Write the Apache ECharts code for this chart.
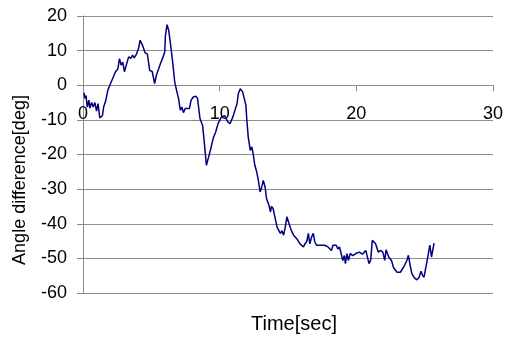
<!DOCTYPE html>
<html><head><meta charset="utf-8">
<script src="https://cdn.jsdelivr.net/npm/echarts@6/dist/echarts.min.js"></script>
<style>html,body{margin:0;padding:0;background:#fff}#c{width:506px;height:337px}</style>
</head><body><div id="c"></div>
<script>
var timeSec = [0.07,0.14,0.22,0.31,0.43,0.50,0.63,0.74,0.87,0.99,1.10,1.23,1.42,1.51,1.66,1.82,2.07,2.18,2.38,2.55,2.67,2.79,2.91,3.03,3.15,3.34,3.51,3.63,3.75,3.91,4.06,4.18,4.35,4.54,4.71,4.88,5.07,5.24,5.39,5.55,5.67,5.86,5.98,6.03,6.15,6.27,6.40,6.47,6.56,6.71,6.87,6.99,7.12,7.23,7.35,7.48,7.59,7.79,7.91,8.07,8.27,8.38,8.56,8.75,8.85,8.96,9.03,9.16,9.32,9.52,9.71,9.88,10.12,10.36,10.60,10.76,10.96,11.12,11.27,11.37,11.51,11.68,11.92,11.99,12.09,12.24,12.35,12.45,12.57,12.71,12.83,12.96,13.07,13.19,13.32,13.43,13.61,13.72,13.79,13.91,14.04,14.20,14.33,14.44,14.56,14.68,14.80,14.92,15.04,15.16,15.28,15.41,15.64,15.88,16.13,16.24,16.37,16.49,16.60,16.73,16.85,16.96,17.09,17.21,17.45,17.69,17.93,18.17,18.29,18.41,18.53,18.65,18.77,18.89,19.01,19.13,19.20,19.32,19.42,19.56,19.73,19.97,20.21,20.45,20.69,20.81,20.93,21.05,21.17,21.41,21.61,21.77,21.94,22.08,22.18,22.28,22.37,22.57,22.73,22.98,23.22,23.38,23.53,23.70,23.81,23.94,24.06,24.25,24.42,24.59,24.73,24.85,24.95,25.09,25.21,25.38,25.50,25.69];
var angleDeg = [-2.1,-3.8,-3.0,-6.3,-4.3,-6.6,-5.0,-6.3,-5.0,-7.5,-5.3,-9.4,-8.8,-6.3,-4.5,-1.4,1.0,1.3,3.9,4.7,7.7,5.8,6.7,3.9,4.4,8.2,7.8,8.7,7.9,9.0,10.6,13.0,11.6,9.4,9.0,4.3,3.9,0.5,3.2,4.9,6.3,8.2,9.6,14.4,17.5,15.9,12.0,12.5,6.7,1.0,-1.9,-3.8,-7.2,-6.3,-7.9,-6.7,-6.5,-6.7,-4.3,-3.4,-3.2,-3.8,-9.6,-11.6,-15.4,-20.2,-23.1,-21.2,-18.8,-15.4,-13.5,-11.1,-9.2,-8.8,-10.6,-11.1,-9.2,-7.2,-5.3,-2.4,-1.0,-1.9,-5.8,-10.1,-14.9,-18.8,-17.8,-19.7,-23.1,-25.0,-27.5,-30.8,-29.5,-27.5,-29.3,-32.7,-34.7,-36.6,-35.0,-35.6,-38.0,-41.0,-41.3,-42.8,-42.0,-43.3,-41.0,-38.0,-38.5,-41.0,-42.3,-43.3,-44.3,-45.8,-46.7,-45.8,-45.2,-42.8,-45.8,-43.8,-42.8,-45.2,-46.2,-45.8,-46.2,-46.2,-46.7,-47.7,-46.2,-46.7,-46.2,-47.3,-46.7,-48.6,-50.6,-49.2,-51.5,-48.6,-50.6,-48.6,-49.2,-48.6,-48.2,-48.8,-47.7,-47.3,-51.5,-50.5,-44.8,-45.8,-48.2,-47.7,-48.2,-50.6,-47.5,-47.3,-49.6,-50.6,-52.7,-54.0,-54.0,-53.0,-52.0,-50.6,-49.1,-52.0,-54.4,-55.6,-56.2,-55.5,-53.7,-54.9,-55.5,-52.5,-50.0,-46.2,-49.6,-45.6];
var xTicks = [0, 30, 10];   // min, max, interval
var yTicks = [-60, 20, 10];
var xTitle = 'Time[sec]';
var yTitle = 'Angle difference[deg]';

var pts = timeSec.map(function (t, i) { return [t, angleDeg[i]]; });
var font = '"Liberation Sans", Arial, sans-serif';
var W = 506, H = 337, gTop = 16, gBottom = 44;
var gridH = H - gTop - gBottom;
// x axis crosses the y axis at value 0
var xOffset = -gridH * (0 - yTicks[0]) / (yTicks[1] - yTicks[0]);
var chart = echarts.init(document.getElementById('c'), null, {renderer: 'canvas'});
chart.setOption({
  animation: false,
  grid: {left: 83, right: 7, top: gTop, bottom: gBottom, containLabel: false},
  xAxis: {
    type: 'value', min: xTicks[0], max: xTicks[1], interval: xTicks[2],
    offset: xOffset,
    axisLine: {onZero: false, lineStyle: {color: '#8c8c8c', width: 1}},
    axisTick: {show: true, inside: false, length: 6, lineStyle: {color: '#8c8c8c'}},
    axisLabel: {color: '#000', fontSize: 18, fontFamily: font, margin: 20},
    splitLine: {show: false}
  },
  yAxis: {
    type: 'value', min: yTicks[0], max: yTicks[1], interval: yTicks[2],
    axisLine: {show: true, lineStyle: {color: '#8c8c8c', width: 1}},
    axisTick: {show: true, inside: false, length: 6, lineStyle: {color: '#8c8c8c'}},
    axisLabel: {color: '#000', fontSize: 18, fontFamily: font, margin: 16},
    splitLine: {show: true, lineStyle: {color: '#8c8c8c', width: 1}}
  },
  graphic: [
    {type: 'text', left: 251, top: 314, style: {text: xTitle, fill: '#000', fontSize: 20, fontFamily: font}},
    {type: 'text', x: 20, y: 180, rotation: Math.PI / 2,
     style: {text: yTitle, fill: '#000', fontSize: 18, fontFamily: font, align: 'center', verticalAlign: 'middle'}}
  ],
  series: [{
    type: 'line', data: pts, showSymbol: false, symbol: 'none',
    lineStyle: {color: '#000080', width: 1.5}, z: 3
  }]
});
</script></body></html>
